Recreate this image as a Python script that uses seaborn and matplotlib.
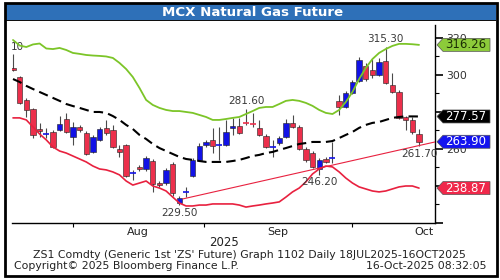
import numpy as np
import pandas as pd
import matplotlib
matplotlib.use("Agg")
import matplotlib.pyplot as plt
import seaborn as sns
from matplotlib.patches import Rectangle, Polygon

# ---------------- data ----------------
opens = [303.8, 298.9, 286.5, 281.6, 270.8, 267.8, 269.4, 270.3, 276.2, 266.5,
         271.9, 268.6, 258.4, 264.9, 271.4, 270.3, 260.0, 262.2, 246.8, 250.3,
         249.2, 253.5, 241.6, 241.6, 251.9, 230.8, 236.5, 245.4, 254.1, 262.2,
         264.9, 261.9, 262.2, 271.4, 272.4, 274.3, 274.0, 271.4, 267.0, 260.8,
         263.2, 266.5, 274.1, 271.9, 260.0, 257.8, 249.2, 254.6, 254.9, 286.0,
         282.7, 290.3, 296.8, 304.9, 302.7, 300.0, 307.6, 294.6, 290.8, 277.3,
         275.7, 268.1]
highs = [311.1, 299.5, 287.6, 282.2, 274.1, 271.4, 270.3, 277.8, 279.5, 274.6,
         273.0, 269.7, 267.6, 271.9, 275.7, 273.0, 262.2, 262.7, 248.6, 251.4,
         256.2, 254.6, 242.7, 249.7, 253.0, 234.6, 239.5, 255.1, 263.2, 264.9,
         271.4, 271.9, 275.7, 276.8, 276.8, 281.6, 279.5, 275.7, 268.1, 264.9,
         267.0, 276.2, 278.4, 273.0, 261.1, 258.9, 255.1, 255.7, 263.8, 289.2,
         291.3, 297.3, 309.7, 306.5, 308.6, 309.2, 315.3, 301.1, 291.9, 277.8,
         277.3, 270.8]
lows = [302.2, 284.3, 277.3, 266.0, 266.5, 266.0, 260.5, 269.7, 268.6, 262.2,
        269.2, 256.8, 257.8, 264.3, 267.6, 260.5, 255.7, 244.9, 243.3, 248.1,
        248.1, 236.8, 239.5, 240.5, 234.6, 229.5, 234.0, 244.9, 253.5, 261.1,
        257.8, 254.1, 261.6, 267.6, 268.1, 273.0, 271.9, 267.0, 260.5, 255.7,
        262.2, 266.0, 271.4, 259.5, 253.0, 249.7, 246.2, 252.4, 252.4, 278.4,
        282.2, 289.7, 296.2, 296.8, 298.4, 299.5, 295.1, 290.3, 276.2, 270.3,
        268.1, 261.7]
closes = [302.7, 284.9, 281.1, 267.6, 269.7, 268.4, 261.1, 273.5, 269.4, 271.9,
          270.3, 257.3, 266.5, 270.8, 268.6, 261.1, 258.4, 245.4, 247.3, 249.2,
          255.1, 241.1, 240.5, 248.7, 236.2, 233.5, 237.0, 254.1, 261.6, 263.8,
          261.6, 262.4, 269.2, 272.4, 268.6, 273.8, 273.5, 267.6, 261.1, 261.4,
          266.0, 274.1, 271.9, 260.0, 254.1, 250.3, 254.1, 253.0, 255.4, 282.7,
          290.3, 296.2, 308.1, 297.8, 300.0, 307.0, 295.7, 290.8, 276.8, 275.7,
          269.2, 263.9]
upper_band = [318.9, 315.9, 315.1, 316.5, 317.0, 314.3, 314.0, 314.6, 313.5, 311.9,
              311.4, 310.8, 310.5, 310.3, 310.0, 309.2, 306.5, 303.2, 298.9, 293.0,
              286.5, 283.8, 282.2, 281.1, 280.5, 280.5, 280.0, 279.5, 278.4, 277.3,
              275.7, 275.7, 276.2, 276.8, 277.3, 278.9, 280.5, 282.2, 282.7, 282.7,
              284.3, 286.0, 286.5, 286.0, 284.9, 283.3, 281.1, 279.5, 278.9, 281.1,
              285.4, 290.8, 297.8, 303.8, 308.6, 311.9, 314.0, 315.7, 316.8, 316.8,
              316.6, 316.26]
middle_band = [297.8, 296.2, 294.1, 292.4, 290.8, 289.2, 287.6, 286.0, 284.3, 283.2,
               282.2, 281.1, 280.0, 280.0, 279.5, 277.8, 275.7, 273.0, 270.8, 267.6,
               265.4, 262.7, 260.5, 258.9, 257.3, 255.7, 254.6, 254.1, 253.5, 253.0,
               253.0, 253.0, 253.0, 253.5, 254.1, 255.1, 256.2, 256.8, 257.8, 258.4,
               259.5, 260.5, 261.6, 262.7, 263.2, 263.8, 263.8, 263.8, 264.3, 265.9,
               267.6, 269.2, 271.4, 273.0, 274.1, 274.6, 275.7, 276.8, 277.3, 277.6,
               277.6, 277.57]
lower_band = [276.8, 276.8, 275.7, 271.9, 268.1, 264.9, 261.1, 258.9, 257.8, 256.2,
              254.6, 253.0, 250.8, 249.2, 248.7, 247.6, 246.0, 242.7, 240.5, 241.6,
              242.7, 240.0, 238.9, 237.3, 234.0, 230.8, 229.2, 229.2, 229.7, 229.7,
              230.3, 230.3, 230.3, 230.3, 229.7, 228.6, 229.2, 229.7, 230.3, 230.8,
              231.4, 234.0, 236.8, 238.9, 242.2, 246.5, 249.2, 250.8, 250.3, 247.6,
              244.3, 241.6, 239.5, 238.4, 237.3, 236.8, 237.3, 238.4, 239.5, 240.0,
              240.0, 238.87]
trend_x = [25.5, 63.4]
trend_y = [233.0, 263.8]

hl_labels = [(35, 281.6, "281.60", "top"), (56, 315.3, "315.30", "top"),
             (25, 229.5, "229.50", "bottom"), (46, 246.2, "246.20", "bottom"),
             (61, 261.7, "261.70", "bottom")]
first_label = "10"          # visible remainder of the clipped first high label
tags = [(316.26, "316.26", "#8CCB3A", "#1B2E05"),
        (277.57, "277.57", "#000000", "#FFFFFF"),
        (263.90, "263.90", "#1414F0", "#FFFFFF"),
        (238.87, "238.87", "#F0284A", "#FFFFFF")]
month_ticks = [9.0, 28.7, 50.9]
month_label_pos = [18.8, 39.8, 61.7]
month_labels = ["Aug", "Sep", "Oct"]
y_major = [220, 240, 260, 280, 300, 320]
y_major_labels = ["", "", "260", "", "300", "320"]
y_minor = [230, 250, 270, 290, 310]

RED = "#EC2F4B"
BLUE = "#1212E6"
GREEN = "#7CC528"
BAND_RED = "#E8213F"

# ---------------- figure ----------------
sns.set_theme(style="white")
plt.rcParams["font.family"] = ["DejaVu Sans"]

W, H = 500, 280
fig = plt.figure(figsize=(W / 100, H / 100), dpi=100)
fig.patch.set_facecolor("white")
ax = fig.add_axes([12 / W, 1 - 223 / H, (435 - 12) / W, (223 - 25) / H])
ax.set_facecolor("white")

day = np.arange(len(opens))
bands = pd.DataFrame({"day": day, "upper": upper_band,
                      "middle": middle_band, "lower": lower_band})

sns.lineplot(data=bands, x="day", y="upper", color=GREEN, lw=1.3, ax=ax, zorder=4)
sns.lineplot(data=bands, x="day", y="lower", color=BAND_RED, lw=1.2, ax=ax, zorder=4)
sns.lineplot(data=bands, x="day", y="middle", color="black", lw=1.5,
             linestyle=(0, (4.5, 2.5)), ax=ax, zorder=4)
ax.plot(trend_x, trend_y, color=BAND_RED, lw=0.8, zorder=4)

# candles
o = np.array(opens); c = np.array(closes)
hi = np.array(highs); lo = np.array(lows)
ax.vlines(day, lo, hi, color="#4a4a4a", lw=0.8, zorder=2)
for i in range(len(day)):
    col = BLUE if c[i] >= o[i] else RED
    if abs(c[i] - o[i]) < 0.7:
        ax.hlines((o[i] + c[i]) / 2, i - 0.45, i + 0.45, color=col, lw=1.2, zorder=3)
    else:
        ax.bar(i, abs(c[i] - o[i]), bottom=min(o[i], c[i]), width=0.8,
               color=col, edgecolor="#202020", linewidth=0.4, zorder=3)

# high / low labels
for x, y, s, pos in hl_labels:
    off = 2 if pos == "top" else -2
    ax.annotate(s, (x, y), xytext=(0, off), textcoords="offset points",
                ha="center", va="bottom" if pos == "top" else "top",
                fontsize=7.5, color="#3a3a3a", zorder=6)
ax.annotate(first_label, (1.6, highs[0]), xytext=(0, 2), textcoords="offset points",
            ha="right", va="bottom", fontsize=7.5, color="#3a3a3a")

ax.set_xlim(-0.15, 63.4)
ax.set_ylim(220, 327)
ax.set_xlabel("")
ax.set_ylabel("")

for s in ["top", "left"]:
    ax.spines[s].set_visible(False)
for s in ["right", "bottom"]:
    ax.spines[s].set_visible(True)
    ax.spines[s].set_color("black")
    ax.spines[s].set_linewidth(1.0)

ax.yaxis.tick_right()
ax.set_yticks(y_major)
ax.set_yticklabels(y_major_labels)
ax.set_yticks(y_minor, minor=True)
ax.tick_params(axis="y", which="major", right=True, left=False, length=6, width=1.2,
               direction="out", labelsize=7.8, pad=2, colors="black",
               labelcolor="#333333")
ax.tick_params(axis="y", which="minor", right=True, left=False, length=3, width=0.8,
               direction="out", colors="black")

ax.set_xticks(month_ticks)
ax.set_xticklabels([""] * len(month_ticks))
ax.set_xticks(month_label_pos, minor=True)
ax.set_xticklabels(month_labels, minor=True)
ax.tick_params(axis="x", which="major", bottom=True, length=3, width=0.8,
               direction="out", colors="black")
ax.tick_params(axis="x", which="minor", bottom=True, length=0, labelsize=8,
               pad=3, labelcolor="#222222")

# value tags on right
fig.canvas.draw()
to_fig = fig.transFigure.inverted()
x_right = ax.transAxes.transform((1, 0))[0]
for val, txt, fc, tc in tags:
    yd = ax.transData.transform((0, val))[1]
    pts_disp = [(x_right + 2, yd), (x_right + 8, yd + 6.5), (x_right + 55, yd + 6.5),
                (x_right + 55, yd - 6.5), (x_right + 8, yd - 6.5)]
    pts = to_fig.transform(pts_disp)
    fig.add_artist(Polygon(pts, closed=True, fc=fc, ec="#555555", lw=0.5,
                           transform=fig.transFigure, zorder=10))
    tx, ty = to_fig.transform((x_right + 31, yd))
    fig.text(tx, ty, txt, color=tc, fontsize=8.5, ha="center", va="center",
             zorder=11)

# frame and title bar
fig.add_artist(Rectangle((5 / W, 1 - 276 / H), 492 / W, 273 / H, fill=False,
                         ec="black", lw=2, transform=fig.transFigure, zorder=20))
fig.add_artist(Rectangle((6 / W, 1 - 20 / H), 490 / W, 16 / H, fc="#2E70B8",
                         ec="none", transform=fig.transFigure, zorder=19))
fig.add_artist(Rectangle((6 / W, 1 - 21 / H), 490 / W, 1.2 / H, fc="#101010",
                         ec="none", transform=fig.transFigure, zorder=19))
fig.text(0.505, 1 - 12 / H, "MCX Natural Gas Future", color="white", fontsize=9.6,
         fontweight="bold", ha="center", va="center", zorder=21)

fig.text(224 / W, 1 - 242 / H, "2025", fontsize=8.5, ha="center", va="center",
         color="#222222")
fig.text(33 / W, 1 - 255 / H,
         "ZS1 Comdty (Generic 1st 'ZS' Future) Graph 1102 Daily 18JUL2025-16OCT2025",
         fontsize=7.8, ha="left", va="center", color="#222222")
fig.text(14 / W, 1 - 266 / H, "Copyright\u00a9 2025 Bloomberg Finance L.P.",
         fontsize=7.8, ha="left", va="center", color="#222222")
fig.text(487 / W, 1 - 266 / H, "16-Oct-2025 08:32:05", fontsize=7.8, ha="right",
         va="center", color="#222222")

fig.savefig("out.png", dpi=100)
